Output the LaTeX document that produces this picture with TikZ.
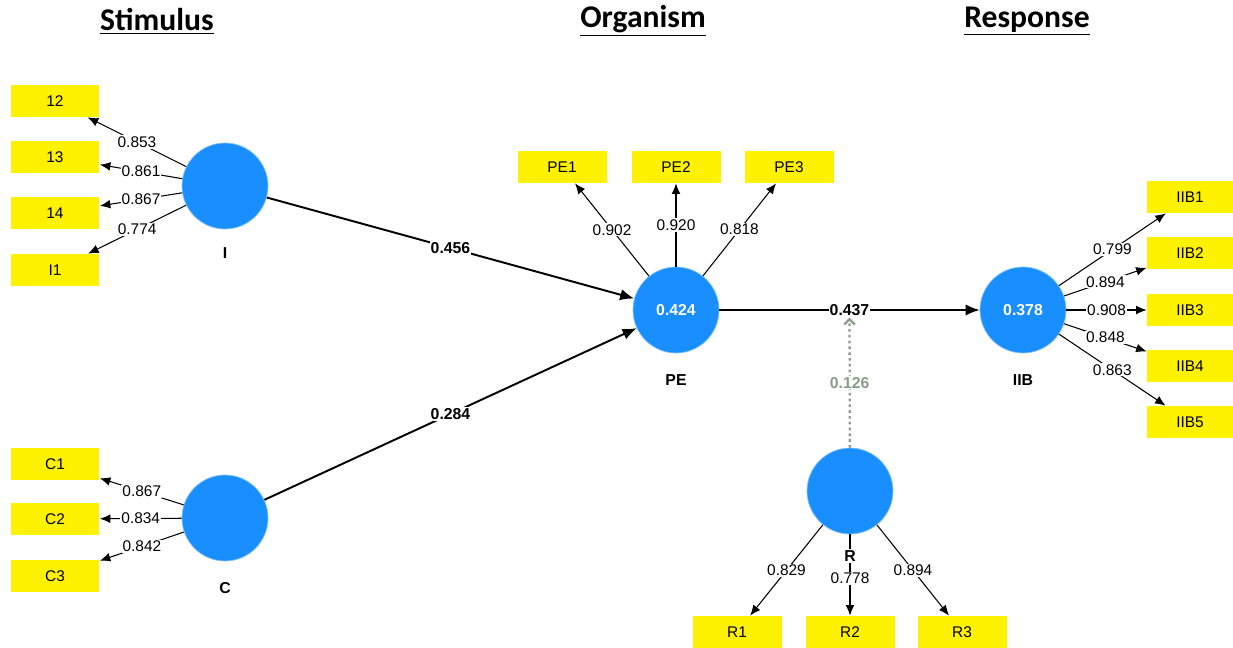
\documentclass[tikz,border=0pt]{standalone}
\usepackage{fontspec}
\setmainfont{Liberation Sans}
\newfontfamily\headfont{Carlito}
\usepackage{xcolor}
\usepackage{tikz}
\usetikzlibrary{arrows.meta}

\definecolor{smblue}{RGB}{24,142,255}
\definecolor{modgray}{RGB}{138,158,136}

\begin{document}
\begin{tikzpicture}[
	x=0.02cm, y=-0.02cm,
	font=\fontsize{8.8}{10}\selectfont
]
\tikzset{
    latent/.style = {circle, fill=smblue, draw=smblue!55!white, minimum size=1.72cm, inner sep=0pt, text=white, font=\bfseries\fontsize{9}{10}\selectfont},
    ind/.style = {rectangle, fill=yellow, minimum width=1.78cm, minimum height=0.64cm, inner sep=0pt},
    lname/.style = {font=\bfseries\fontsize{9}{10}\selectfont},
    head/.style = {font=\headfont\bfseries\fontsize{18}{20}\selectfont},
    load/.style = {-{Latex[length=6pt,width=5pt]}, line width=0.6pt},
    loadlbl/.style = {fill=white, inner sep=0.6pt, pos=0.5},
    strpath/.style = {-{Latex[length=8pt,width=6.5pt]}, line width=1.1pt},
    strlbl/.style = {fill=white, inner sep=0.6pt, pos=0.5, font=\bfseries\fontsize{9}{10}\selectfont},
    modpath/.style = {-{Straight Barb[length=3pt,width=6pt]}, draw=modgray, line width=1.3pt, dash pattern=on 1.5pt off 1.8pt}
}
\useasboundingbox (0,0) rectangle (1233,648);

% headings
\node[head] (hs) at (157,21) {\underline{Stimulus}};
\node[head] (ho) at (643,21) {\underline{Organism}};
\node[head] (hr) at (1027,21) {\underline{Response}};

% latent variables
\node[latent] (I) at (225,186) {};
\node[latent] (C) at (225,518) {};
\node[latent] (PE) at (676,310) {0.424};
\node[latent] (IIB) at (1023,310) {0.378};
\node[latent] (R) at (850,491) {};

\node[lname] (nI) at (225,253) {I};
\node[lname] (nC) at (225,588) {C};
\node[lname] (nPE) at (676,380) {PE};
\node[lname] (nIIB) at (1023,380) {IIB};

% indicators
\node[ind] (i12) at (55,101) {12};
\node[ind] (i13) at (55,157) {13};
\node[ind] (i14) at (55,213) {14};
\node[ind] (i1) at (55,270) {I1};

\node[ind] (c1) at (55,464) {C1};
\node[ind] (c2) at (55,519) {C2};
\node[ind] (c3) at (55,576) {C3};

\node[ind] (pe1) at (562,167) {PE1};
\node[ind] (pe2) at (676,167) {PE2};
\node[ind] (pe3) at (789,167) {PE3};

\node[ind,minimum width=1.72cm] (iib1) at (1190,197) {IIB1};
\node[ind,minimum width=1.72cm] (iib2) at (1190,253) {IIB2};
\node[ind,minimum width=1.72cm] (iib3) at (1190,310) {IIB3};
\node[ind,minimum width=1.72cm] (iib4) at (1190,366) {IIB4};
\node[ind,minimum width=1.72cm] (iib5) at (1190,422) {IIB5};

\node[ind] (r1) at (737,632) {R1};
\node[ind] (r2) at (850,632) {R2};
\node[ind] (r3) at (962,632) {R3};

% outer loadings
\draw[load] (I) -- node[loadlbl] {0.853} (i12);
\draw[load] (I) -- node[loadlbl] {0.861} (i13);
\draw[load] (I) -- node[loadlbl] {0.867} (i14);
\draw[load] (I) -- node[loadlbl] {0.774} (i1);

\draw[load] (C) -- node[loadlbl] {0.867} (c1);
\draw[load] (C) -- node[loadlbl] {0.834} (c2);
\draw[load] (C) -- node[loadlbl] {0.842} (c3);

\draw[load] (PE) -- node[loadlbl] {0.902} (pe1);
\draw[load] (PE) -- node[loadlbl] {0.920} (pe2);
\draw[load] (PE) -- node[loadlbl] {0.818} (pe3);

\draw[load] (IIB) -- node[loadlbl] {0.799} (iib1);
\draw[load] (IIB) -- node[loadlbl] {0.894} (iib2);
\draw[load] (IIB) -- node[loadlbl] {0.908} (iib3);
\draw[load] (IIB) -- node[loadlbl] {0.848} (iib4);
\draw[load] (IIB) -- node[loadlbl] {0.863} (iib5);

\draw[load] (R) -- node[loadlbl] {0.829} (r1);
\draw[load] (R) -- node[loadlbl,pos=0.54] {0.778} (r2);
\draw[load] (R) -- node[loadlbl] {0.894} (r3);
\node[lname,fill=white,inner sep=0.8pt] (nR) at (850,556) {R};

% structural paths
\draw[strpath] (I) -- node[strlbl] {0.456} (PE);
\draw[strpath] (C) -- node[strlbl] {0.284} (PE);
\draw[strpath] (PE) -- node[strlbl] (mod) {0.437} (IIB);
\draw[modpath] (R) -- node[loadlbl,text=modgray,font=\bfseries\fontsize{9}{10}\selectfont] {0.126} (mod);
\end{tikzpicture}
\end{document}
